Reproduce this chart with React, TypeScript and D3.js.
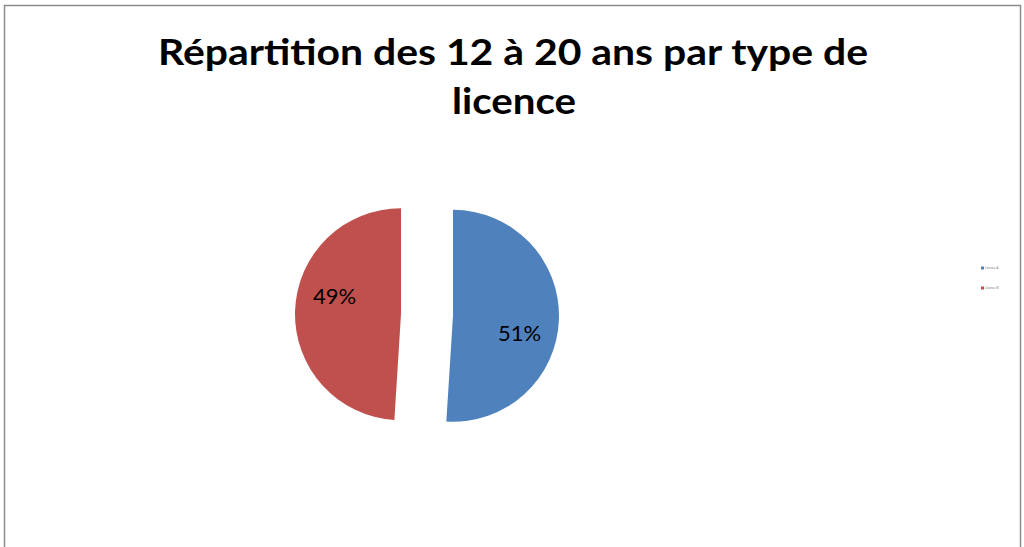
import { useEffect, useRef } from 'react';
import * as d3 from 'd3';

const categories = ['Licence A', 'Licence B'];
const shares = [51, 49];
const colors = ['#4F81BD', '#C0504D'];
const titleLines = ['Répartition des 12 à 20 ans par type de', 'licence'];

export default function App() {
  const svgRef = useRef<SVGSVGElement>(null);

  useEffect(() => {
    if (!svgRef.current) return;
    const svg = d3.select(svgRef.current);
    svg.selectAll('*').remove();

    // chart frame
    svg.append('rect')
      .attr('x', 4.5)
      .attr('y', 5.5)
      .attr('width', 1016)
      .attr('height', 560)
      .attr('fill', '#fff')
      .attr('stroke', '#8c8c8c')
      .attr('stroke-width', 1.5);

    // title
    const title = svg.append('text')
      .attr('text-anchor', 'middle')
      .attr('font-family', 'Lato, "Open Sans", sans-serif')
      .attr('font-weight', 700)
      .attr('font-size', 36)
      .attr('fill', '#000');
    title.append('tspan').attr('x', 513).attr('y', 65)
      .attr('textLength', 710).attr('lengthAdjust', 'spacingAndGlyphs')
      .text(titleLines[0]);
    title.append('tspan').attr('x', 514).attr('y', 114)
      .attr('textLength', 124).attr('lengthAdjust', 'spacingAndGlyphs')
      .text(titleLines[1]);

    // pie
    const cx = 427;
    const cy = 315;
    const r = 106;
    const explode = 26;
    const labelShift = 0.23;

    const pie = d3.pie<number>().sort(null).value(d => d);
    const arcs = pie(shares);
    const arc = d3.arc<d3.PieArcDatum<number>>().innerRadius(0).outerRadius(r);
    const labelArc = d3.arc<any>().innerRadius(r * 0.65).outerRadius(r * 0.65);

    const g = svg.append('g').attr('transform', `translate(${cx},${cy})`);
    const slices = g.selectAll('g.slice')
      .data(arcs)
      .join('g')
      .attr('class', 'slice')
      .attr('transform', d => {
        const mid = (d.startAngle + d.endAngle) / 2;
        return `translate(${Math.sin(mid) * explode},${-Math.cos(mid) * explode})`;
      });

    slices.append('path')
      .attr('d', arc)
      .attr('fill', (d, i) => colors[i]);

    slices.append('text')
      .attr('transform', d => {
        const mid = (d.startAngle + d.endAngle) / 2 + labelShift;
        const [lx, ly] = labelArc.centroid({ startAngle: mid, endAngle: mid });
        return `translate(${lx},${ly})`;
      })
      .attr('text-anchor', 'middle')
      .attr('dy', '0.35em')
      .attr('font-family', 'Lato, "Open Sans", sans-serif')
      .attr('font-size', 22)
      .attr('fill', '#000')
      .text(d => `${d.data}%`);

    // legend (tiny)
    const legend = svg.append('g').attr('transform', 'translate(981,268)');
    const item = legend.selectAll('g')
      .data(categories)
      .join('g')
      .attr('transform', (d, i) => `translate(0,${i * 20})`);
    item.append('rect')
      .attr('x', 0).attr('y', -1.5)
      .attr('width', 3).attr('height', 3)
      .attr('fill', (d, i) => colors[i]);
    item.append('text')
      .attr('x', 4).attr('y', 1.2)
      .attr('font-family', 'Lato, "Open Sans", sans-serif')
      .attr('font-size', 3.2)
      .attr('fill', '#777')
      .text(d => d);
  }, []);

  return (
    <svg
      ref={svgRef}
      width={1024}
      height={547}
      viewBox="0 0 1024 547"
      style={{ position: 'absolute', left: 0, top: 0, background: '#fff' }}
    />
  );
}
